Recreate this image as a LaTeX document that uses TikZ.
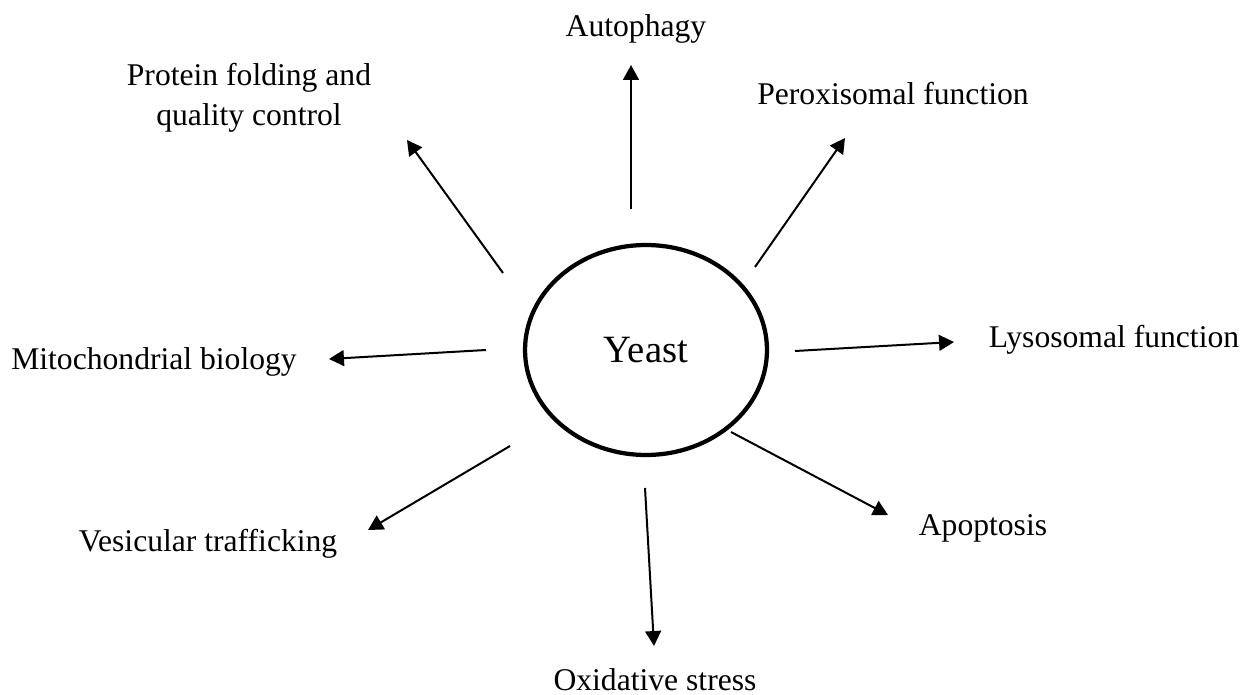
\documentclass[tikz,border=0pt]{standalone}
\usepackage{fontspec}
\setmainfont{Liberation Serif}
\usetikzlibrary{shapes.geometric,arrows.meta}

\begin{document}
\begin{tikzpicture}[x=0.02cm, y=-0.02cm,
	lbl/.style={inner sep=0pt, font=\fontsize{18}{23}\selectfont},
	arr/.style={line width=0.4mm, -{Triangle[length=8.5pt,width=9pt]}}]
	\useasboundingbox (0,0) rectangle (1244,695);
	% centre
	\node[draw, ellipse, line width=0.85mm, inner sep=0pt, minimum width=4.84cm, minimum height=4.2cm,
		font=\fontsize{22}{26}\selectfont] (yeast) at (646,350) {Yeast};
	% labels
	\node[lbl, anchor=base] (auto) at (636,37) {Autophagy};
	\node[lbl, align=center] (prot) at (249,98) {Protein folding and\\quality control};
	\node[lbl, anchor=base] (perox) at (893,105) {Peroxisomal function};
	\node[lbl, anchor=base] (mito) at (154,370) {Mitochondrial biology};
	\node[lbl, anchor=base] (lyso) at (1114,348) {Lysosomal function};
	\node[lbl, anchor=base] (vesic) at (208,552) {Vesicular trafficking};
	\node[lbl, anchor=base] (apop) at (983,536) {Apoptosis};
	\node[lbl, anchor=base] (oxid) at (655,690) {Oxidative stress};
	% arrow ends
	\coordinate (auto-s) at (631,209);  \coordinate (auto-e) at (631,65);
	\coordinate (prot-s) at (503,273);  \coordinate (prot-e) at (407,140);
	\coordinate (perox-s) at (755,267); \coordinate (perox-e) at (845,138);
	\coordinate (mito-s) at (486,350);  \coordinate (mito-e) at (329,359);
	\coordinate (lyso-s) at (795,351);  \coordinate (lyso-e) at (954,342);
	\coordinate (vesic-s) at (510,446); \coordinate (vesic-e) at (368,530);
	\coordinate (apop-s) at (731,432);  \coordinate (apop-e) at (888,515);
	\coordinate (oxid-s) at (645,488);  \coordinate (oxid-e) at (654,646);
	\foreach \n in {auto,prot,perox,mito,lyso,vesic,apop,oxid}
		\draw[arr] (\n-s) -- (\n-e);
\end{tikzpicture}
\end{document}
